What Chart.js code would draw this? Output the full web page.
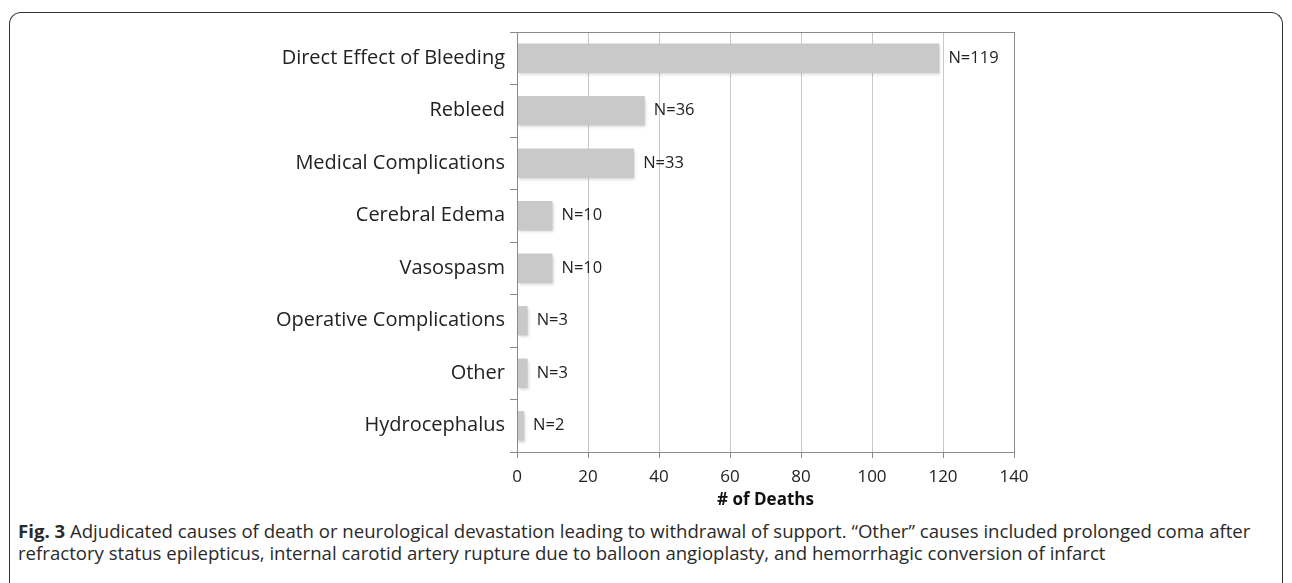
<!DOCTYPE html>
<html lang="en">
<head>
  <meta charset="UTF-8" />
  <title>Adjudicated causes of death</title>
  <style>
    body {
      margin: 0;
      background: #fff;
      width: 1292px;
      height: 583px;
      overflow: hidden;
      position: relative;
    }
    .frame {
      position: absolute;
      left: 9px;
      top: 12px;
      width: 1272px;
      height: 600px;
      border: 1.5px solid #333;
      border-bottom: none;
      border-radius: 12px 12px 0 0;
    }
    #chartWrap {
      position: absolute;
      left: 0;
      top: 0;
      width: 1292px;
      height: 515px;
    }
    .caption {
      position: absolute;
      left: 18px;
      top: 520px;
      width: 1270px;
      font-family: "Open Sans", sans-serif;
      font-size: 18.6px;
      line-height: 22px;
      color: #2a2a2a;
      white-space: nowrap;
    }
    .caption b { font-weight: 700; }
  </style>
</head>
<body>
  <div class="frame"></div>
  <div id="chartWrap"><canvas id="deathChart"></canvas></div>
  <div class="caption">
    <b>Fig. 3</b> Adjudicated causes of death or neurological devastation leading to withdrawal of support. “Other” causes included prolonged coma after<br>
    refractory status epilepticus, internal carotid artery rupture due to balloon angioplasty, and hemorrhagic conversion of infarct
  </div>

  <script src="https://cdn.jsdelivr.net/npm/chart.js@4.4.0/dist/chart.umd.min.js"></script>
  <script>
    const causes = [
      "Direct Effect of Bleeding",
      "Rebleed",
      "Medical Complications",
      "Cerebral Edema",
      "Vasospasm",
      "Operative Complications",
      "Other",
      "Hydrocephalus"
    ];
    const deaths = [119, 36, 33, 10, 10, 3, 3, 2];
    const xTicks = [0, 20, 40, 60, 80, 100, 120, 140];

    const labelFont = "'Open Sans', sans-serif";

    // soft shadow under bars, N=.. labels at the bar ends, frame round the plot
    const barLabels = {
      id: "barLabels",
      beforeDatasetsDraw(chart) {
        const ctx = chart.ctx;
        ctx.save();
        ctx.shadowColor = "rgba(0,0,0,0.18)";
        ctx.shadowBlur = 3;
        ctx.shadowOffsetX = 1;
        ctx.shadowOffsetY = 2;
      },
      afterDatasetsDraw(chart) {
        const ctx = chart.ctx;
        ctx.restore();
        const meta = chart.getDatasetMeta(0);
        ctx.save();
        ctx.font = "16.5px " + labelFont;
        ctx.fillStyle = "#222";
        ctx.textBaseline = "middle";
        meta.data.forEach((bar, i) => {
          ctx.fillText("N=" + deaths[i], bar.x + 9, bar.y);
        });
        const a = chart.chartArea;
        ctx.strokeStyle = "#8a8a8a";
        ctx.lineWidth = 1;
        ctx.strokeRect(Math.round(a.left) + 0.5, Math.round(a.top) + 0.5,
          Math.round(a.right - a.left), Math.round(a.bottom - a.top));
        ctx.restore();
      }
    };

    new Chart(document.getElementById("deathChart"), {
      type: "bar",
      data: {
        labels: causes,
        datasets: [{
          data: deaths,
          backgroundColor: "#c9c9c9",
          borderWidth: 0,
          barPercentage: 0.56,
          categoryPercentage: 1.0
        }]
      },
      plugins: [barLabels],
      options: {
        indexAxis: "y",
        responsive: true,
        maintainAspectRatio: false,
        animation: false,
        layout: { padding: { left: 0, top: 32, right: 278, bottom: 0 } },
        plugins: {
          legend: { display: false },
          tooltip: { enabled: false }
        },
        scales: {
          x: {
            min: 0,
            max: 140,
            afterBuildTicks(scale) {
              scale.ticks = xTicks.map(v => ({ value: v }));
            },
            afterFit(scale) { scale.height = 63; },
            grid: {
              color: "#c8c8c8",
              tickColor: "#8a8a8a",
              tickLength: 6
            },
            border: { color: "#8a8a8a" },
            ticks: {
              color: "#222",
              font: { family: labelFont, size: 17 },
              padding: 9
            },
            title: {
              display: true,
              text: "# of Deaths",
              color: "#111",
              font: { family: labelFont, size: 17, weight: "bold" },
              padding: { top: 2, bottom: 5 }
            }
          },
          y: {
            afterFit(scale) { scale.width = 517; },
            grid: {
              drawOnChartArea: false,
              color: "#8a8a8a",
              tickLength: 7
            },
            border: { color: "#8a8a8a" },
            ticks: {
              color: "#222",
              font: { family: labelFont, size: 20 },
              padding: 5
            }
          }
        }
      }
    });
  </script>
</body>
</html>
